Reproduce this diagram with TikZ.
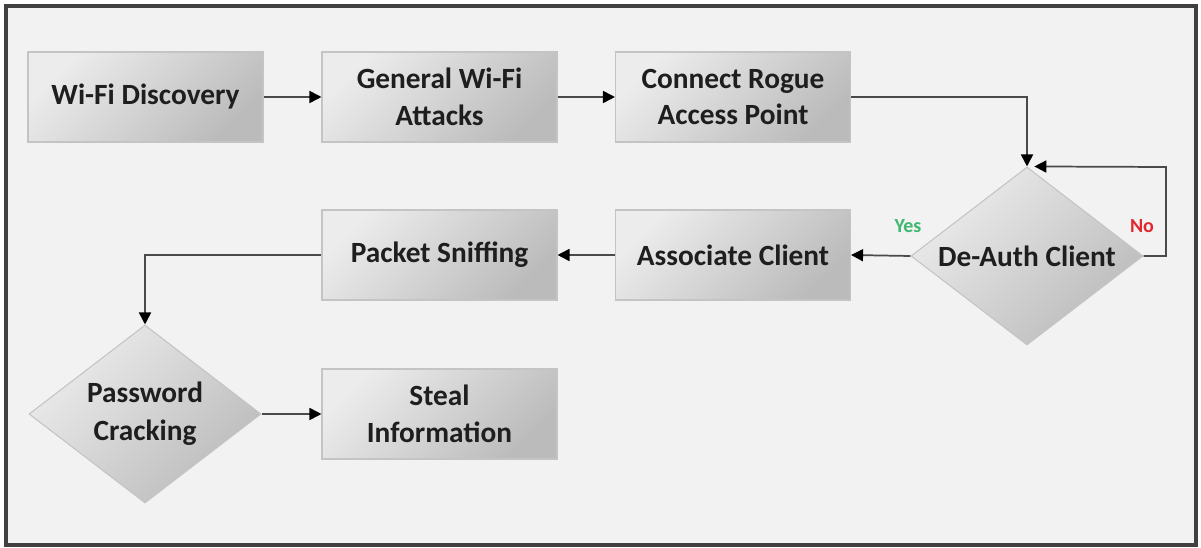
\documentclass[tikz,border=0pt]{standalone}
\usepackage{fontspec}
\setmainfont{Carlito}
\usetikzlibrary{shapes.geometric,arrows.meta}
\definecolor{bg}{HTML}{F2F2F2}
\definecolor{frame}{HTML}{404040}
\definecolor{boxline}{HTML}{C4C4C4}
\definecolor{boxA}{HTML}{ECECEC}
\definecolor{boxB}{HTML}{BBBBBB}
\definecolor{ln}{HTML}{4A4A4A}
\definecolor{txt}{HTML}{1E1E1E}
\definecolor{yescol}{HTML}{3DB870}
\definecolor{nocol}{HTML}{E0282E}
\begin{document}
\begin{tikzpicture}[x=0.75pt,y=-0.75pt,
  box/.style={draw=boxline, line width=0.8pt, top color=boxA, bottom color=boxB, shading angle=45,
    minimum width=176.25pt, minimum height=67.5pt, inner sep=0pt, align=center,
    font=\bfseries\fontsize{22}{27.5}\selectfont, text=txt},
  dec/.style={diamond, draw=boxline, line width=0.8pt, top color=boxA, bottom color=boxB, shading angle=45,
    minimum width=174pt, minimum height=133.5pt, inner sep=0pt,
    font=\bfseries\fontsize{22}{27.5}\selectfont, text=txt},
  arr/.style={draw=ln, line width=1.3pt, -{Triangle[length=9pt,width=9pt,color=black]}},
  lbl/.style={font=\bfseries\fontsize{15}{18}\selectfont, inner sep=0pt}]
\useasboundingbox (0,0) rectangle (1201,548);
\fill[white] (0,0) rectangle (1201,548);
\filldraw[fill=bg, draw=frame, line width=2.4pt] (6,6) rectangle (1196,545);

\node[box] (wd) at (145.5,97) {\raisebox{-1.5pt}{Wi-Fi Discovery}};
\node[box] (gw) at (439.5,97) {General Wi-Fi\\Attacks};
\node[box] (cr) at (733,97) {Connect Rogue\\Access Point};
\node[dec] (da) at (1027,256) {\makebox[0pt]{De-Auth Client}};
\node[box] (ac) at (733,255) {Associate Client};
\node[box] (ps) at (439.5,255) {Packet Sniffing};
\node[dec] (pc) at (145,414) {\makebox[0pt]{\begin{tabular}{@{}c@{}}Password\\[1.5pt]Cracking\end{tabular}}};
\node[box] (si) at (439.5,414) {Steal\\Information};

\node[lbl, text=yescol] (yes) at (908,226) {Yes};
\node[lbl, text=nocol] (no) at (1142,226) {No};

\coordinate (loopx) at (1166,167);

\draw[arr] (wd) -- (gw);
\draw[arr] (gw) -- (cr);
\draw[arr] (cr.east) -| (da.north);
\draw[arr] (da.east) -| (loopx) -- ([xshift=5.5pt]da.north);
\draw[arr] (da.west) -- (ac.east);
\draw[arr] (ac.west) -- (ps.east);
\draw[arr] (ps.west) -| (pc.north);
\draw[arr] (pc.east) -- (si.west);
\end{tikzpicture}
\end{document}
